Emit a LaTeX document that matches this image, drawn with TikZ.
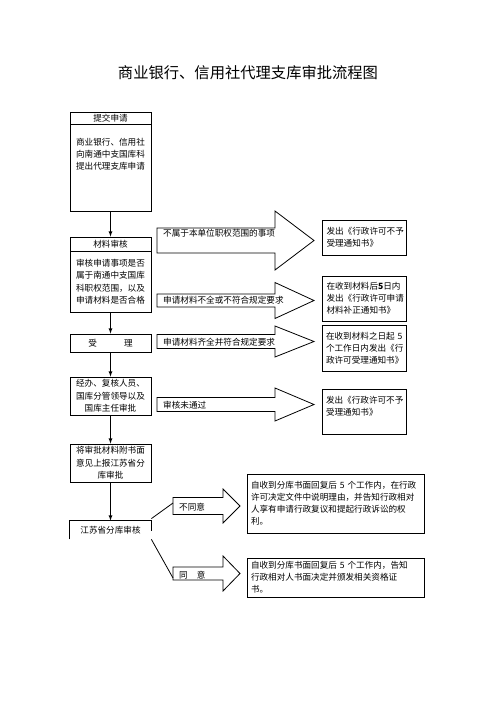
\documentclass[tikz,border=0pt]{standalone}
\usepackage{fontspec}
\setmainfont{Noto Sans CJK SC}
\usepackage{tikz}
\usetikzlibrary{arrows}
\tikzset{box/.style={draw, line width=0.8pt, inner sep=0pt, minimum width=81pt, align=center, font=\fontsize{8.6pt}{12.5pt}\selectfont}}
\tikzset{txt/.style={inner sep=0pt, align=center, font=\fontsize{8.6pt}{12pt}\selectfont}}
\tikzset{note/.style={draw, line width=0.8pt, inner xsep=4pt, inner ysep=0pt, align=left, font=\fontsize{8.6pt}{12pt}\selectfont}}
\tikzset{arrowtext/.style={inner sep=0pt, anchor=west, font=\fontsize{8.6pt}{12.5pt}\selectfont}}

\begin{document}
\begin{tikzpicture}[x=1pt,y=-1pt]
  \fill[white] (0,0) rectangle (496,702);
  \node[font=\fontsize{15.3pt}{18pt}\selectfont] (title) at (248,73) {商业银行、信用社代理支库审批流程图};

  % left column
  \node[box, minimum height=12pt] (submithead) at (110.5,118) {提交申请};
  \node[box, minimum height=87pt] (submitbody) at (110.5,167.5) {};
  \node[txt] (submittext) at (110.5,154.5) {商业银行、信用社\\向南通中支国库科\\提出代理支库申请};
  \node[box, minimum height=14pt] (checkhead) at (110.5,244) {材料审核};
  \node[box, minimum height=61pt] (checkbody) at (110.5,281.5) {审核申请事项是否\\属于南通中支国库\\科职权范围，以及\\申请材料是否合格};
  \node[box, minimum height=18pt] (accept) at (110.5,343) {受\hspace{27pt}理};
  \node[box, minimum height=38pt] (approve) at (110.5,396) {经办、复核人员、\\国库分管领导以及\\国库主任审批};
  \node[box, minimum height=38pt] (report) at (110.5,463) {将审批材料附书面\\意见上报江苏省分\\库审批};
  \node[box, draw=none, minimum height=18pt] (branch) at (110.5,530) {江苏省分库审核};
  \draw[line width=0.8pt] (branch.south west) -- (branch.north west) -- (branch.north east) -- ([yshift=-10pt]branch.north east);

  \foreach \u/\v in {
    submitbody/checkhead,
    checkbody/accept,
    accept/approve,
    approve/report,
    report/branch%
  }{
    \draw[line width=0.8pt, -latex] (\u) edge (\v);
  }

  % block arrows
  \foreach \name/\xa/\xb/\xc/\yc/\hb/\hh in {
    outscope/157/275/314/240.5/12.5/29.5,
    incomplete/157/275/314/300.5/6.5/18,
    complete/157/275/314/341.5/7/15.5,
    failed/157/275/314/404.5/7/16.5,
    no/173/223/240/506/8.5/17,
    yes/173/223/240/573.5/6.5/17.5%
  }{
    \draw[line width=0.8pt] (\xa,\yc-\hb) -- (\xb,\yc-\hb) -- (\xb,\yc-\hh) -- (\xc,\yc)
      -- (\xb,\yc+\hh) -- (\xb,\yc+\hb) -- (\xa,\yc+\hb) -- cycle;
    \coordinate (a-\name) at (\xa,\yc);
  }
  \node[arrowtext] (outscopelab) at (163,233) {不属于本单位职权范围的事项};
  \node[arrowtext] (incompletelab) at (163,300) {申请材料不全或不符合规定要求};
  \node[arrowtext] (completelab) at (163,342) {申请材料齐全并符合规定要求};
  \node[arrowtext] (failedlab) at (163,405) {审核未通过};
  \node[arrowtext] (nolab) at (179,507) {不同意};
  \node[arrowtext] (yeslab) at (179,575) {同\hspace{9pt}意};

  \draw[line width=0.8pt] ([yshift=2pt]branch.north east) -- ([yshift=3pt]a-no);
  \draw[line width=0.8pt] (branch.south east) -- ([yshift=-4.5pt]a-yes);

  % result boxes
  \node[note, text width=76pt, minimum height=35pt] (refuse) at (364.5,237.5) {发出《行政许可不予\\受理通知书》};
  \node[note, text width=76pt, minimum height=45pt] (supplement) at (364.5,298.5) {在收到材料后\textbf{5}日内\\发出《行政许可申请\\材料补正通知书》};
  \node[note, text width=76pt, minimum height=46pt] (notice) at (364,348) {在收到材料之日起~5\\个工作日内发出《行\\政许可受理通知书》};
  \node[note, text width=76pt, minimum height=45pt] (reject) at (364,411.5) {发出《行政许可不予\\受理通知书》\\\mbox{}};
  \node[note, text width=169pt, minimum height=59pt] (disagree) at (335.5,503.5) {自收到分库书面回复后 5 个工作内，在行政\\许可决定文件中说明理由，并告知行政相对\\人享有申请行政复议和提起行政诉讼的权\\利。};
  \node[note, text width=169pt, minimum height=39pt] (agree) at (335.5,577.5) {自收到分库书面回复后 5 个工作内，告知\\行政相对人书面决定并颁发相关资格证\\书。};
\end{tikzpicture}
\end{document}
